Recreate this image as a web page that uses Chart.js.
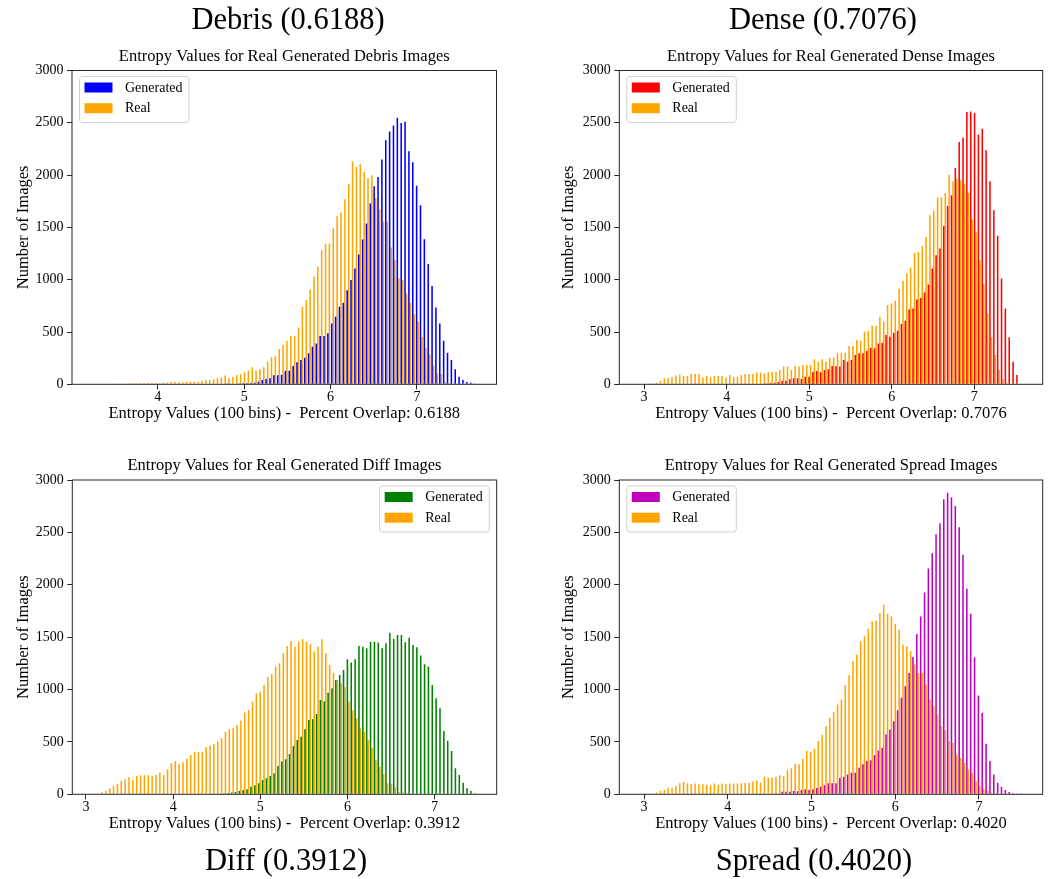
<!DOCTYPE html>
<html>
<head>
<meta charset="utf-8">
<script src="https://cdn.jsdelivr.net/npm/chart.js@4.4.1/dist/chart.umd.min.js"></script>
<style>
html,body{margin:0;padding:0;background:#fff;width:1048px;height:879px;overflow:hidden;}
canvas{position:absolute;}
</style>
</head>
<body>
<canvas id="cDebris" width="576" height="440" style="left:0px;top:0px;width:576px;height:440px"></canvas>
<canvas id="cDense" width="556" height="440" style="left:545px;top:0px;width:556px;height:440px"></canvas>
<canvas id="cDiff" width="572" height="439" style="left:0px;top:440px;width:572px;height:439px"></canvas>
<canvas id="cSpread" width="538" height="439" style="left:545px;top:440px;width:538px;height:439px"></canvas>
<script>
// ---------- shared tick labels ----------
const xTickValues = [3, 4, 5, 6, 7];
const yTickValues = [0, 500, 1000, 1500, 2000, 2500, 3000];
const NBINS = 100;
const seriesNames = ['Generated', 'Real'];

// ---------- Debris ----------
const debrisTitle = 'Debris (0.6188)';
const debrisSubtitle = 'Entropy Values for Real Generated Debris Images';
const debrisXLabel = 'Entropy Values (100 bins) -  Percent Overlap: 0.6188';
const debrisRange = [3.231, 7.697];     // histogram bin range
const debrisXLimits = [3.008, 7.92];
const debrisGenerated = [
  0,0,0,0,0,0,0,0,0,0, 0,0,0,0,0,0,0,0,0,0, 0,0,0,0,0,0,0,0,0,0, 0,0,0,0,0,3,5,6,8,10,
  10,12,16,25,41,51,57,86,86,92, 130,130,175,210,232,255,296,360,391,461,
  461,487,582,646,741,780,900,996,1107,1241, 1384,1537,1728,1893,1982,2148,2332,2418,2475,2549,
  2498,2510,2227,2122,1899,1712,1387,1149,939,735, 582,417,302,232,143,73,41,22,16,3
];
const debrisReal = [
  1,0,0,0,0,8,8,8,8,9, 9,10,10,10,12,15,12,12,14,18, 25,25,20,20,22,25,25,25,35,40,
  40,48,57,67,83,57,73,89,95,115, 130,162,130,146,162,216,258,270,334,375,
  417,461,461,544,741,805,907,1028,1123,1282, 1340,1346,1489,1607,1642,1769,1912,2129,2078,2103,
  2030,1973,1998,1780,1670,1553,1553,1308,1187,1015, 996,869,780,671,598,455,344,286,178,105,
  99,25,10,3,0,0,0,0,0,0
];

// ---------- Dense ----------
const denseTitle = 'Dense (0.7076)';
const denseSubtitle = 'Entropy Values for Real Generated Dense Images';
const denseXLabel = 'Entropy Values (100 bins) -  Percent Overlap: 0.7076';
const denseRange = [2.933, 7.595];
const denseXLimits = [2.70, 7.828];
const denseGenerated = [
  0,0,0,0,0,0,0,0,0,0, 0,0,0,0,0,0,0,0,0,0, 0,0,0,0,0,0,0,0,0,0, 0,0,5,8,12,16,22,35,35,48,
  57,57,51,73,73,118,127,115,137,143, 175,175,169,232,216,232,280,296,296,318,
  350,344,391,398,471,455,493,512,576,608, 716,725,811,824,878,955,1107,1234,1298,1514,
  1705,1807,2068,2316,2357,2603,2609,2593,2389,2443, 2237,1941,1664,1419,1012,725,449,216,89,5
];
const denseReal = [
  0,0,3,10,16,32,57,57,70,83, 92,80,80,99,99,99,64,80,67,80, 80,80,64,89,73,73,89,99,99,99,
  115,111,105,115,121,121,137,169,169,137, 178,169,185,185,185,239,216,239,216,255,
  255,302,302,302,366,366,423,417,503,509, 560,560,646,598,757,773,799,913,990,1060,
  1117,1257,1266,1320,1409,1616,1658,1785,1785,1830, 2004,1941,1966,1950,1912,1830,1575,1457,1187,958,
  678,449,280,137,48,10,0,0,0,0
];

// ---------- Diff ----------
const diffTitle = 'Diff (0.3912)';
const diffSubtitle = 'Entropy Values for Real Generated Diff Images';
const diffXLabel = 'Entropy Values (100 bins) -  Percent Overlap: 0.3912';
const diffRange = [3.064, 7.49];
const diffXLimits = [2.843, 7.711];
const diffGenerated = [
  0,0,0,0,0,0,0,0,0,0, 0,0,0,0,0,0,0,0,0,0, 0,0,0,0,0,0,0,0,0,0, 0,3,5,8,10,12,16,22,32,41,
  48,73,86,105,137,153,175,200,270,312, 334,385,461,519,550,620,709,716,767,900,
  885,970,1012,1091,1139,1187,1289,1257,1289,1416, 1409,1394,1457,1457,1448,1394,1441,1543,1483,1521,
  1521,1451,1495,1425,1403,1324,1241,1219,1044,916, 821,605,512,414,248,185,111,57,32,10
];
const diffReal = [
  3,10,19,35,57,80,99,130,143,162, 137,175,181,181,181,175,185,207,185,239,
  296,318,290,305,340,375,401,407,407,452, 465,480,503,535,598,620,630,662,703,780,
  805,885,964,980,1044,1123,1149,1219,1250,1346, 1416,1464,1409,1457,1479,1457,1435,1362,1409,1479,
  1346,1234,1161,1091,1060,1021,885,799,725,630, 598,519,439,328,264,194,105,95,67,22,
  16,10,3,0,0,0,0,0,0,0, 0,0,0,0,0,0,0,0,0,0
];

// ---------- Spread ----------
const spreadTitle = 'Spread (0.4020)';
const spreadSubtitle = 'Entropy Values for Real Generated Spread Images';
const spreadXLabel = 'Entropy Values (100 bins) -  Percent Overlap: 0.4020';
const spreadRange = [2.935, 7.531];
const spreadXLimits = [2.705, 7.761];
const spreadGenerated = [
  0,0,0,0,0,0,0,0,0,0, 0,0,0,0,0,0,0,0,0,0, 0,0,0,0,0,0,0,0,0,0, 0,0,0,0,0,0,0,25,25,25,
  32,29,41,48,41,48,60,73,86,105, 105,105,159,168,190,206,206,254,286,317,
  324,375,419,444,571,619,698,803,921,1032, 1159,1311,1530,1698,1927,2156,2302,2483,2587,2816,
  2879,2835,2752,2549,2286,1962,1724,1308,943,778, 483,317,190,111,73,41,22,10,3,1
];
const spreadReal = [
  3,10,0,5,16,32,41,63,63,79, 105,117,105,95,102,95,95,89,86,102,
  92,102,95,102,102,102,105,108,111,121, 133,111,168,156,159,168,181,175,229,248,
  292,286,340,413,406,435,508,565,651,730, 784,857,905,1041,1137,1270,1333,1460,1508,1581,
  1651,1660,1730,1810,1724,1698,1625,1571,1429,1413, 1365,1238,1159,1159,1048,905,841,762,651,613,
  508,492,381,349,302,238,200,127,79,54, 32,16,10,0,0,0,0,0,0,0
];

// ---------- colours ----------
const realColor = '#ffa500';

Chart.defaults.font.family = "'Liberation Serif', 'Times New Roman', serif";
Chart.defaults.color = '#000';

// spines + matplotlib-style legend box
const frameLegend = {
  id: 'frameLegend',
  afterDraw(chart, args, opts) {
    const ctx = chart.ctx, a = chart.chartArea;
    ctx.save();
    ctx.strokeStyle = '#262626';
    ctx.lineWidth = 1;
    ctx.strokeRect(a.left, a.top, a.right - a.left, a.bottom - a.top);
    const w = 109.5, h = 46, r = 3;
    const x = opts.side === 'right' ? a.right - 7.5 - w : a.left + 7.5;
    const y = a.top + 6;
    ctx.beginPath();
    ctx.moveTo(x + r, y);
    ctx.lineTo(x + w - r, y); ctx.arcTo(x + w, y, x + w, y + r, r);
    ctx.lineTo(x + w, y + h - r); ctx.arcTo(x + w, y + h, x + w - r, y + h, r);
    ctx.lineTo(x + r, y + h); ctx.arcTo(x, y + h, x, y + h - r, r);
    ctx.lineTo(x, y + r); ctx.arcTo(x, y, x + r, y, r);
    ctx.closePath();
    ctx.fillStyle = 'rgba(255,255,255,0.8)';
    ctx.fill();
    ctx.strokeStyle = '#d0d0d0';
    ctx.stroke();
    ctx.font = "14px 'Liberation Serif'";
    ctx.textBaseline = 'middle';
    ctx.textAlign = 'left';
    chart.data.datasets.forEach((ds, i) => {
      ctx.fillStyle = ds.backgroundColor;
      ctx.fillRect(x + 5, y + 6 + i * 20.7, 28, 10);
      ctx.fillStyle = '#000';
      ctx.fillText(ds.label, x + 45.5, y + 11.5 + i * 20.7);
    });
    ctx.restore();
  }
};

function binCenters(range) {
  const w = (range[1] - range[0]) / NBINS;
  return Array.from({length: NBINS}, (_, i) => range[0] + (i + 0.5) * w);
}

function makeChart(id, p) {
  const centers = binCenters(p.range);
  const ds = (label, vals, color) => ({
    label: label,
    data: vals.map((v, i) => ({x: centers[i], y: v})),
    backgroundColor: color,
    borderWidth: 0,
    categoryPercentage: 0.8,
    barPercentage: 1.0,
    grouped: true
  });
  const top = p.row === 'top';
  return new Chart(document.getElementById(id), {
    type: 'bar',
    data: { datasets: [ds(seriesNames[0], p.gen, p.genColor), ds(seriesNames[1], p.real, realColor)] },
    plugins: [frameLegend],
    options: {
      responsive: false,
      animation: false,
      devicePixelRatio: 1,
      layout: { padding: { left: 0, right: 0, top: 0, bottom: top ? 15.7 : 1.75 } },
      plugins: {
        legend: { display: false },
        tooltip: { enabled: false },
        title: {
          display: true, text: p.title, position: top ? 'top' : 'bottom', fullSize: true,
          font: { size: 30.5, lineHeight: 1, weight: 'normal' }, color: '#000',
          padding: top ? { top: 5.5, bottom: 0 } : { top: 12.45, bottom: 0 }
        },
        subtitle: {
          display: true, text: p.subtitle, position: 'top', fullSize: false,
          font: { size: 16.5, lineHeight: 1.2, weight: 'normal' }, color: '#000',
          padding: top ? { top: 10.9, bottom: 3.8 } : { top: 16.1, bottom: 4.1 }
        },
        frameLegend: { side: p.legendSide }
      },
      scales: {
        x: {
          type: 'linear', min: p.xLimits[0], max: p.xLimits[1], offset: false,
          afterBuildTicks: s => { s.ticks = xTickValues.filter(v => v >= s.min && v <= s.max).map(v => ({value: v})); },
          ticks: { font: { size: 14 }, color: '#000', padding: 0, autoSkip: false, maxRotation: 0, callback: v => String(v) },
          grid: { display: true, offset: false, drawOnChartArea: false, drawTicks: true, tickLength: 5, color: '#262626' },
          border: { display: false },
          title: { display: true, text: p.xLabel, font: { size: 16.5, lineHeight: 1.2 }, color: '#000', padding: { top: 0, bottom: 1 } },
          afterFit: s => { s.height = 40; }
        },
        y: {
          type: 'linear', position: 'left', min: 0, max: 3000,
          afterBuildTicks: s => { s.ticks = yTickValues.map(v => ({value: v})); },
          ticks: { font: { size: 14 }, color: '#000', padding: 3.5, autoSkip: false, callback: v => String(v) },
          grid: { display: true, offset: false, drawOnChartArea: false, drawTicks: true, tickLength: 5, color: '#262626' },
          border: { display: false },
          title: { display: true, text: 'Number of Images', font: { size: 16.5, lineHeight: 1.2 }, color: '#000', padding: { top: 13.4, bottom: 0 } },
          afterFit: s => { s.width = p.yWidth; }
        },
        pad: {
          type: 'linear', position: 'right', display: true,
          grid: { display: false }, border: { display: false }, ticks: { display: false },
          afterFit: s => { s.width = p.padWidth; }
        }
      }
    }
  });
}

makeChart('cDebris', { row: 'top', title: debrisTitle, subtitle: debrisSubtitle, xLabel: debrisXLabel,
  range: debrisRange, xLimits: debrisXLimits, gen: debrisGenerated, real: debrisReal, genColor: '#0000ff',
  legendSide: 'left', yWidth: 72, padWidth: 79.5 });
makeChart('cDense', { row: 'top', title: denseTitle, subtitle: denseSubtitle, xLabel: denseXLabel,
  range: denseRange, xLimits: denseXLimits, gen: denseGenerated, real: denseReal, genColor: '#ff0000',
  legendSide: 'left', yWidth: 74.3, padWidth: 58.3 });
makeChart('cDiff', { row: 'bottom', title: diffTitle, subtitle: diffSubtitle, xLabel: diffXLabel,
  range: diffRange, xLimits: diffXLimits, gen: diffGenerated, real: diffReal, genColor: '#008000',
  legendSide: 'right', yWidth: 72.3, padWidth: 75.3 });
makeChart('cSpread', { row: 'bottom', title: spreadTitle, subtitle: spreadSubtitle, xLabel: spreadXLabel,
  range: spreadRange, xLimits: spreadXLimits, gen: spreadGenerated, real: spreadReal, genColor: '#bf00bf',
  legendSide: 'left', yWidth: 74.3, padWidth: 40.3 });
</script>
</body>
</html>
